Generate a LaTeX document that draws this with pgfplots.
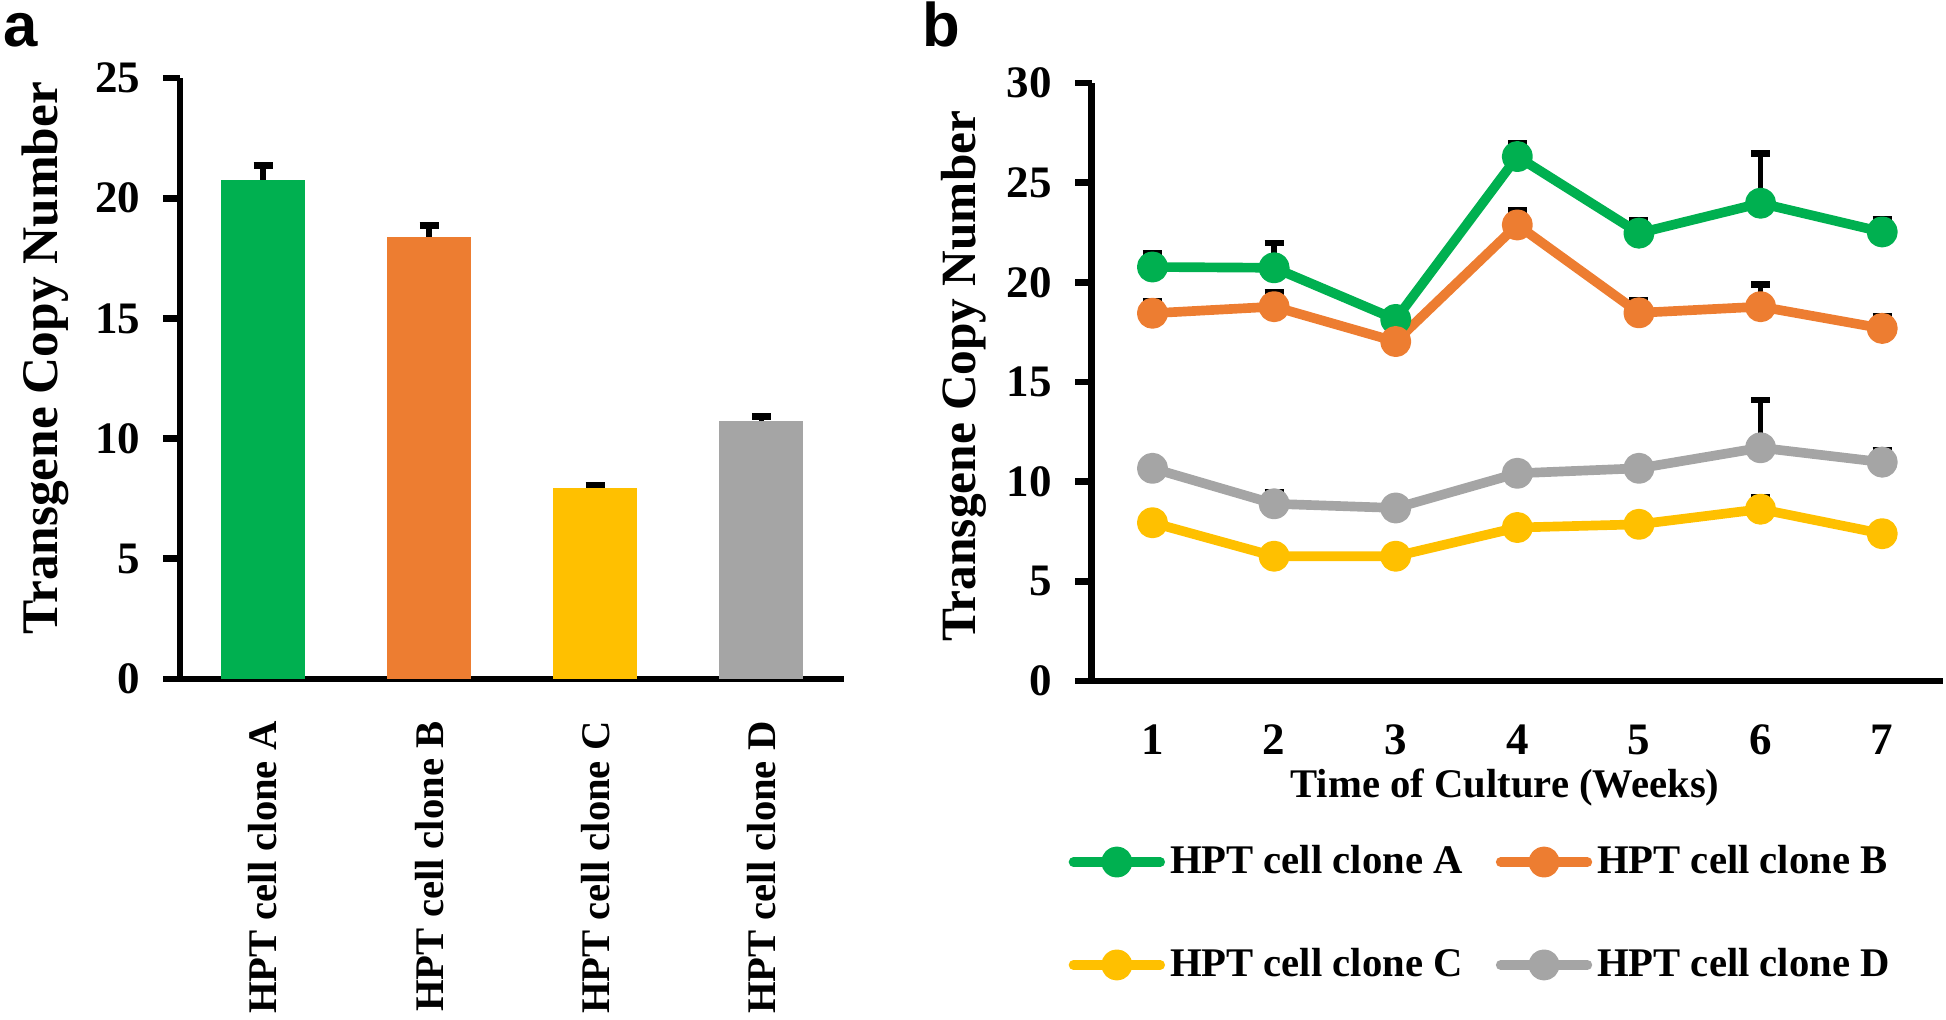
\documentclass[border=0pt]{standalone}
\usepackage{fontspec}
\setmainfont{Liberation Serif}
\newfontfamily\arialfont{Liberation Sans}
\usepackage{pgfplots}
\pgfplotsset{compat=1.18}
\definecolor{cA}{HTML}{00B050}
\definecolor{cB}{HTML}{ED7D31}
\definecolor{cC}{HTML}{FFC000}
\definecolor{cD}{HTML}{A5A5A5}
\newcommand{\tickfont}{\fontsize{13.5}{16}\selectfont\bfseries}
\newcommand{\labfont}{\fontsize{12.2}{14}\selectfont\bfseries}
\pgfplotsset{
  myaxis/.style={
    scale only axis, axis lines*=left, clip=false,
    axis line style={line width=2pt, black},
    ytick align=outside, major tick length=5pt,
    ytick style={line width=2pt, black},
    xtick style={draw=none},
    /pgf/number format/assume math mode=true,
    yticklabel style={font=\tickfont},
    yticklabel shift=3.4pt,
    ylabel style={anchor=base},
  },
  errb/.style={forget plot, only marks, mark=none,
    error bars/.cd, y dir=plus, y explicit,
    error bar style={line width=1.6pt, black},
    error mark options={rotate=90, line width=2pt, black, mark size=2.85pt}},
  ln/.style={color=#1, line width=2.9pt, mark=*, mark size=3.2pt,
    mark options={draw=none, fill=#1}, line cap=round, line join=round},
}
\begin{document}
\begin{tikzpicture}
\useasboundingbox (0,0) rectangle (583.8pt,305.7pt);
% ---------- panel a ----------
\begin{axis}[myaxis, at={(54pt,102pt)}, anchor=south west,
  width=199.3pt, height=180.3pt,
  xmin=-0.5, xmax=3.5, ymin=0, ymax=25, ytick={0,5,...,25},
  xtick={0,1,2,3},
  xticklabels={HPT cell clone A,HPT cell clone B,HPT cell clone C,HPT cell clone D},
  xticklabel style={rotate=90, anchor=east, font=\labfont},
  xticklabel shift=9.2pt,
  ylabel={Transgene Copy Number},
  ylabel style={font=\fontsize{15.4}{17}\selectfont\bfseries, at={(axis description cs:-0.185,0.534)}},
]
\addplot[ybar, bar width=25.2pt, bar shift=0pt, fill=cA, draw=none,
  error bars/.cd, y dir=plus, y explicit,
  error bar style={line width=1.6pt, black},
  error mark options={rotate=90, line width=2pt, black, mark size=2.85pt}]
  coordinates {(0,20.76) +- (0,0.6)};
\addplot[ybar, bar width=25.2pt, bar shift=0pt, fill=cB, draw=none,
  error bars/.cd, y dir=plus, y explicit,
  error bar style={line width=1.6pt, black},
  error mark options={rotate=90, line width=2pt, black, mark size=2.85pt}]
  coordinates {(1,18.40) +- (0,0.46)};
\addplot[ybar, bar width=25.2pt, bar shift=0pt, fill=cC, draw=none,
  error bars/.cd, y dir=plus, y explicit,
  error bar style={line width=1.6pt, black},
  error mark options={rotate=90, line width=2pt, black, mark size=2.85pt}]
  coordinates {(2,7.95) +- (0,0.12)};
\addplot[ybar, bar width=25.2pt, bar shift=0pt, fill=cD, draw=none,
  error bars/.cd, y dir=plus, y explicit,
  error bar style={line width=1.6pt, black},
  error mark options={rotate=90, line width=2pt, black, mark size=2.85pt}]
  coordinates {(3,10.72) +- (0,0.2)};
\end{axis}
% ---------- panel b ----------
\begin{axis}[myaxis, at={(327.5pt,101.4pt)}, anchor=south west,
  width=255.4pt, height=179.4pt,
  xmin=0.5, xmax=7.5, ymin=0, ymax=30, ytick={0,5,...,30},
  xtick={1,2,3,4,5,6,7},
  xticklabel style={font=\tickfont},
  xticklabel shift=9.6pt,
  ylabel={Transgene Copy Number},
  ylabel style={font=\fontsize{14.8}{17}\selectfont\bfseries, at={(axis description cs:-0.136,0.51)}},
  xlabel={Time of Culture (Weeks)},
  xlabel style={font=\labfont, at={(axis description cs:0.4855,0)}, anchor=base, yshift=-34.8pt},
  legend columns=2,
  legend cell align=left,
  legend style={draw=none, fill=none, inner sep=0pt, outer sep=0pt,
    at={(-0.027,-0.275)}, anchor=north west, font=\labfont,
    row sep=20.9pt,
    nodes={inner sep=0pt},
    /tikz/every odd column/.append style={column sep=1.5pt},
    /tikz/every even column/.append style={column sep=10pt}},
  legend image code/.code={\draw[mark repeat=2, mark phase=2, #1]
    plot coordinates {(0pt,0pt) (13pt,0pt) (26pt,0pt)};},
]
% error bars (drawn beneath the lines)
\addplot[errb] coordinates {(1,20.77) +- (0,0.68) (2,20.73) +- (0,1.25) (3,18.14) +- (0,0.2) (4,26.31) +- (0,0.65) (5,22.47) +- (0,0.65) (6,23.97) +- (0,2.5) (7,22.53) +- (0,0.65)};
\addplot[errb] coordinates {(1,18.45) +- (0,0.62) (2,18.78) +- (0,0.7) (3,17.03) +- (0,0.2) (4,22.88) +- (0,0.75) (5,18.47) +- (0,0.62) (6,18.78) +- (0,1.1) (7,17.69) +- (0,0.6)};
\addplot[errb] coordinates {(1,7.94) +- (0,0.2) (2,6.26) +- (0,0.2) (3,6.26) +- (0,0.2) (4,7.70) +- (0,0.2) (5,7.86) +- (0,0.2) (6,8.62) +- (0,0.6) (7,7.39) +- (0,0.2)};
\addplot[errb] coordinates {(1,10.67) +- (0,0.2) (2,8.89) +- (0,0.6) (3,8.68) +- (0,0.2) (4,10.42) +- (0,0.2) (5,10.67) +- (0,0.2) (6,11.70) +- (0,2.4) (7,10.98) +- (0,0.6)};
% lines
\addplot[ln=cA] coordinates {(1,20.77) (2,20.73) (3,18.14) (4,26.31) (5,22.47) (6,23.97) (7,22.53)};
\addlegendentry{HPT cell clone A}
\addplot[ln=cB] coordinates {(1,18.45) (2,18.78) (3,17.03) (4,22.88) (5,18.47) (6,18.78) (7,17.69)};
\addlegendentry{HPT cell clone B}
\addplot[ln=cC] coordinates {(1,7.94) (2,6.26) (3,6.26) (4,7.70) (5,7.86) (6,8.62) (7,7.39)};
\addlegendentry{HPT cell clone C}
\addplot[ln=cD] coordinates {(1,10.67) (2,8.89) (3,8.68) (4,10.42) (5,10.67) (6,11.70) (7,10.98)};
\addlegendentry{HPT cell clone D}
\end{axis}
% panel letters
\node[anchor=base west, inner sep=0pt, font=\arialfont\bfseries\fontsize{18.5}{20}\selectfont] at (0.8pt,291.6pt) {a};
\node[anchor=base west, inner sep=0pt, font=\arialfont\bfseries\fontsize{18.5}{20}\selectfont] at (276.5pt,291.6pt) {b};
\end{tikzpicture}
\end{document}
